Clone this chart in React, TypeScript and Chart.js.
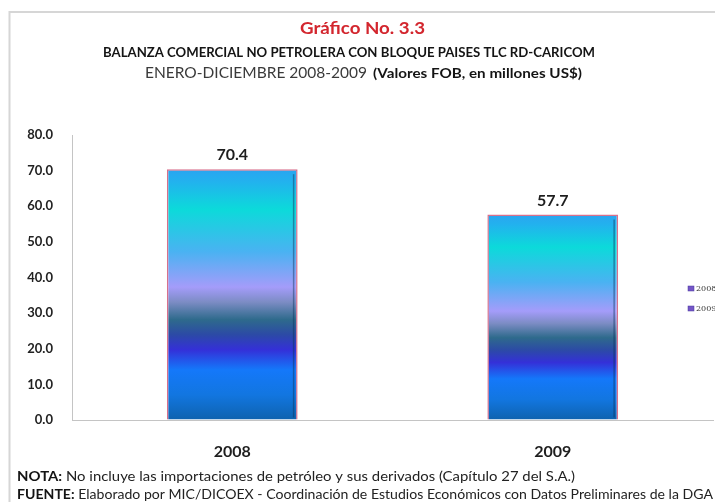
import React, { useEffect, useRef } from "react";
import { Chart, registerables } from "chart.js";

Chart.register(...registerables);

const categories = ["2008", "2009"];
const values = [70.4, 57.7];
const yMin = 0;
const yMax = 80;
const yStep = 10;

const titleText = "Gráfico No. 3.3";
const subtitleText = "BALANZA COMERCIAL NO PETROLERA CON BLOQUE PAISES TLC RD-CARICOM";
const periodText = "ENERO-DICIEMBRE 2008-2009";
const unitsText = "(Valores FOB, en millones US$)";
const notaLabel = "NOTA:";
const notaText = " No incluye las importaciones de petróleo y sus derivados (Capítulo 27 del S.A.)";
const fuenteLabel = "FUENTE:";
const fuenteText = " Elaborado por MIC/DICOEX - Coordinación de Estudios Económicos con Datos Preliminares de la DGA";

const FONT = "Lato, 'Open Sans', sans-serif";

type Part = { text: string; font: string; color: string };

// draws a run of text parts stretched/compressed horizontally to a target width
function drawParts(ctx: CanvasRenderingContext2D, parts: Part[], x: number, y: number, width: number) {
  const widths = parts.map((p) => {
    ctx.font = p.font;
    return ctx.measureText(p.text).width;
  });
  const total = widths.reduce((a, b) => a + b, 0);
  const k = width / total;
  let cx = x;
  parts.forEach((p, i) => {
    ctx.save();
    ctx.font = p.font;
    ctx.fillStyle = p.color;
    ctx.textAlign = "left";
    ctx.textBaseline = "alphabetic";
    ctx.translate(cx, y);
    ctx.scale(k, 1);
    ctx.fillText(p.text, 0, 0);
    ctx.restore();
    cx += widths[i] * k;
  });
}

const decorPlugin = {
  id: "decor",
  beforeDraw(chart: any) {
    const ctx: CanvasRenderingContext2D = chart.ctx;
    ctx.save();
    ctx.fillStyle = "#ffffff";
    ctx.fillRect(0, 0, chart.width, chart.height);
    // frame
    ctx.strokeStyle = "#d6d6d6";
    ctx.lineWidth = 2;
    ctx.beginPath();
    ctx.moveTo(9.5, chart.height);
    ctx.lineTo(9.5, 12);
    ctx.lineTo(chart.width, 12);
    ctx.stroke();
    // headings
    drawParts(ctx, [{ text: titleText, font: `bold 17px ${FONT}`, color: "#d3262e" }], 300, 34, 125);
    drawParts(ctx, [{ text: subtitleText, font: `bold 12.5px ${FONT}`, color: "#141414" }], 103, 57, 492);
    drawParts(ctx, [{ text: periodText, font: `14.5px ${FONT}`, color: "#3a3a3a" }], 145, 78, 222);
    drawParts(ctx, [{ text: unitsText, font: `bold 12.5px ${FONT}`, color: "#141414" }], 373, 78, 209);
    // footer
    drawParts(
      ctx,
      [
        { text: notaLabel, font: `bold 13px ${FONT}`, color: "#141414" },
        { text: notaText, font: `13px ${FONT}`, color: "#222222" },
      ],
      17,
      481,
      558
    );
    drawParts(
      ctx,
      [
        { text: fuenteLabel, font: `bold 13px ${FONT}`, color: "#141414" },
        { text: fuenteText, font: `13px ${FONT}`, color: "#222222" },
      ],
      17,
      499,
      696
    );
    ctx.restore();
  },
  afterDatasetsDraw(chart: any) {
    const ctx: CanvasRenderingContext2D = chart.ctx;
    const meta = chart.getDatasetMeta(0);
    ctx.save();
    meta.data.forEach((bar: any, i: number) => {
      const p = bar.getProps(["x", "y", "base", "width"], true);
      // inner dark edge on the right
      ctx.strokeStyle = "rgba(10,50,90,0.45)";
      ctx.lineWidth = 1.5;
      ctx.beginPath();
      ctx.moveTo(p.x + p.width / 2 - 4, p.y + 5);
      ctx.lineTo(p.x + p.width / 2 - 4, p.base - 2);
      ctx.stroke();
      // value label
      ctx.font = `bold 16px ${FONT}`;
      ctx.fillStyle = "#1e1e1e";
      ctx.textAlign = "center";
      ctx.textBaseline = "middle";
      ctx.fillText(values[i].toFixed(1), p.x, p.y - 14);
    });
    // legend
    categories.forEach((c, i) => {
      const ly = 289 + i * 20;
      ctx.fillStyle = "#7456c6";
      ctx.fillRect(688, ly - 3, 6, 5);
      ctx.strokeStyle = "#4a3aa0";
      ctx.lineWidth = 0.5;
      ctx.strokeRect(688, ly - 3, 6, 5);
      ctx.font = "8px 'DejaVu Serif', serif";
      ctx.fillStyle = "#333333";
      ctx.textAlign = "left";
      ctx.textBaseline = "middle";
      ctx.fillText(c, 696, ly);
    });
    ctx.restore();
  },
};

function barGradient(context: any) {
  const chart = context.chart;
  const y = chart.scales && chart.scales.y;
  if (!chart.chartArea || !y || context.raw === undefined) return "#2aa6f0";
  const top = y.getPixelForValue(context.raw);
  const base = y.getPixelForValue(0);
  if (!isFinite(top) || !isFinite(base) || top === base) return "#2aa6f0";
  const g = chart.ctx.createLinearGradient(0, top, 0, base);
  g.addColorStop(0, "#2aa4f0");
  g.addColorStop(0.05, "#22b2ee");
  g.addColorStop(0.16, "#0cdada");
  g.addColorStop(0.33, "#4ab2f2");
  g.addColorStop(0.47, "#a49cfa");
  g.addColorStop(0.53, "#7c8cc4");
  g.addColorStop(0.6, "#2e6a8c");
  g.addColorStop(0.66, "#2c4aa6");
  g.addColorStop(0.72, "#3430d8");
  g.addColorStop(0.8, "#1478fa");
  g.addColorStop(0.9, "#1276e0");
  g.addColorStop(1, "#0e62ae");
  return g;
}

export default function App() {
  const ref = useRef<HTMLCanvasElement | null>(null);
  useEffect(() => {
    if (!ref.current) return;
    const chart = new Chart(ref.current, {
      type: "bar",
      data: {
        labels: categories,
        datasets: [
          {
            data: values,
            backgroundColor: barGradient,
            borderColor: "#d8708c",
            borderWidth: 1.5,
            categoryPercentage: 1,
            barPercentage: 0.408,
          },
        ],
      },
      options: {
        responsive: false,
        animation: false,
        layout: { padding: { top: 135, right: 2, left: 0, bottom: 0 } },
        plugins: {
          legend: { display: false },
          title: { display: false },
          tooltip: { enabled: false },
        },
        scales: {
          x: {
            grid: { color: "transparent", drawTicks: false },
            border: { display: true, color: "#c4c4c4", width: 1 },
            ticks: { font: { family: FONT, size: 16, weight: "bold" }, color: "#1e1e1e", padding: 22 },
            afterFit: (s: any) => {
              s.height = 82;
            },
          },
          y: {
            min: yMin,
            max: yMax,
            grid: { color: "transparent", drawTicks: false },
            border: { display: true, color: "#c4c4c4", width: 1 },
            ticks: {
              stepSize: yStep,
              font: { family: FONT, size: 13, weight: "bold" },
              color: "#222222",
              padding: 19,
              callback: (v: any) => Number(v).toFixed(1),
            },
            afterFit: (s: any) => {
              s.width = 72;
            },
          },
        },
      },
      plugins: [decorPlugin],
    });
    return () => chart.destroy();
  }, []);
  return (
    <div style={{ position: "fixed", left: 0, top: 0, width: 715, height: 502, background: "#fff" }}>
      <canvas ref={ref} width={715} height={502} style={{ display: "block" }} />
    </div>
  );
}
